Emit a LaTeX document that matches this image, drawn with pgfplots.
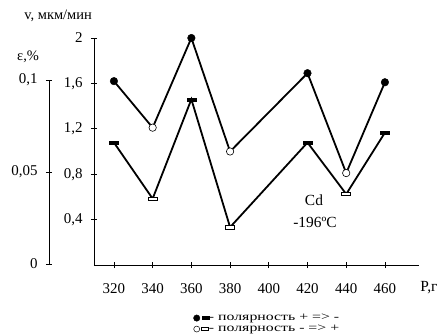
\documentclass[border=0pt]{standalone}
\usepackage{pgfplots}
\pgfplotsset{compat=1.18}
\usepackage{graphicx}
\usepackage{fontspec}
\setmainfont{Liberation Serif}
\pgfdeclareplotmark{hbar}{\pgfpathrectangle{\pgfpoint{-4.5bp}{-1.6bp}}{\pgfpoint{9bp}{3.2bp}}\pgfusepathqfillstroke}
\begin{document}
\begin{tikzpicture}
\path[use as bounding box] (-94bp,-69bp) rectangle (346bp,265bp);
% epsilon axis
\begin{axis}[at={(-45bp,1bp)}, anchor=south west, scale only axis,
  width=370bp, height=184bp, xmin=286.45, xmax=477.6, ymin=0, ymax=0.1,
  hide x axis, axis y line=left, axis line style={-, line width=0.8bp},
  ytick={0,0.05,0.1}, yticklabels={0,{0,05},{0,1}},
  tick align=center, major tick length=6bp, tick style={line width=0.8bp, black},
  ticklabel style={font=\fontsize{15}{18}\selectfont},
  yticklabel style={xshift=-5bp},
  /pgf/number format/assume math mode=true, clip=false]
\addplot[line width=1.8bp] coordinates {(320,0.066) (340,0.0355) (360,0.0895) (380,0.020) (420,0.066) (440,0.038) (460,0.0714)};
\addplot[only marks, mark=hbar, mark options={fill=black, draw=black, line width=0.4bp}] coordinates {(320,0.066) (360,0.0895) (420,0.066) (460,0.0714)};
\addplot[only marks, mark=hbar, mark options={fill=white, draw=black, line width=0.5bp}] coordinates {(340,0.0355) (380,0.020) (440,0.038)};
\end{axis}
% main axis (v)
\begin{axis}[at={(0,0)}, anchor=south west, scale only axis,
  width=325bp, height=227bp, xmin=309.7, xmax=477.6, ymin=0, ymax=2,
  axis x line=bottom, axis y line=left, axis line style={-, line width=0.8bp},
  xtick={320,340,...,460}, xticklabels={320,340,360,380,400,420,440,460},
  ytick={0.4,0.8,1.2,1.6,2}, yticklabels={{0,4},{0,8},{1,2},{1,6},2},
  tick align=center, major tick length=6bp, tick style={line width=0.8bp, black},
  ticklabel style={font=\fontsize{15}{18}\selectfont},
  xticklabel style={yshift=-12bp},
  yticklabel style={xshift=-5bp},
  /pgf/number format/assume math mode=true, clip=false,
  legend style={at={(0.305,-0.258)}, anchor=west, draw=none, fill=none,
    inner sep=0pt, row sep=0pt, font=\fontsize{11.5}{11.5}\selectfont,
    legend cell align=left,
    nodes={inner sep=0pt, outer sep=0pt, minimum height=11bp}}]
\addplot[line width=1.8bp, forget plot] coordinates {(320,1.62) (340,1.21) (360,2.0) (380,1.0) (420,1.69) (440,0.81) (460,1.61)};
\addplot[only marks, mark=*, mark size=3.8bp, mark options={fill=black, draw=black}, forget plot] coordinates {(320,1.62) (360,2.0) (420,1.69) (460,1.61)};
\addplot[only marks, mark=*, mark size=3.7bp, mark options={fill=white, draw=black, line width=0.6bp}, forget plot] coordinates {(340,1.21) (380,1.0) (440,0.81)};
\addlegendimage{legend image code/.code={\fill (0bp,0bp) circle (3.2bp); \fill (5bp,-1.5bp) rectangle (12bp,1.5bp);}}
\addlegendentry{\scalebox{1.38}[1]{- полярность + => -}}
\addlegendimage{legend image code/.code={\draw[line width=0.5bp, fill=white] (0bp,0bp) circle (3bp); \draw[line width=0.5bp, fill=white] (5bp,-1.5bp) rectangle (12bp,1.5bp);}}
\addlegendentry{\scalebox{1.38}[1]{- полярность - => +}}
\end{axis}
\node[font=\fontsize{14.5}{16}\selectfont, anchor=east, inner sep=0pt] at (-2bp,249bp) {v, мкм/мин};
\node[font=\fontsize{14.5}{16}\selectfont, anchor=west, inner sep=0pt] at (-77bp,208bp) {ε,\%};
\node[font=\fontsize{15.5}{18}\selectfont] at (220bp,65bp) {Cd};
\node[font=\fontsize{15.5}{18}\selectfont] at (221bp,43bp) {-196ºC};
\node[font=\fontsize{15.5}{18}\selectfont] at (335bp,-23bp) {P,г};
\end{tikzpicture}
\end{document}
